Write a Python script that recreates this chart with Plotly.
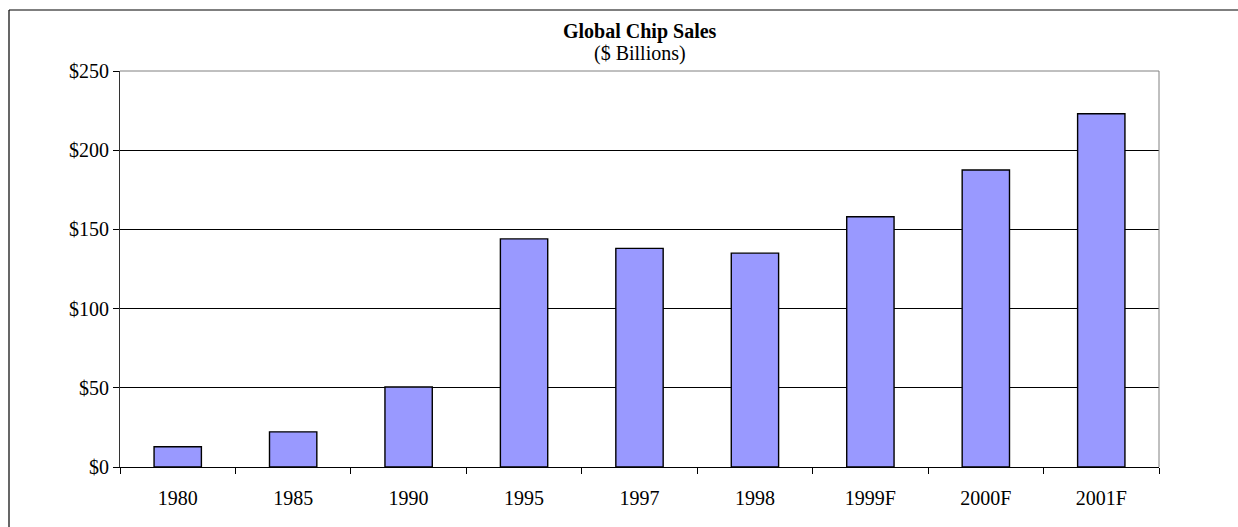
import plotly.graph_objects as go

categories = ["1980", "1985", "1990", "1995", "1997", "1998", "1999F", "2000F", "2001F"]
sales = [12.8, 22.2, 50.5, 144.0, 138.0, 135.0, 158.0, 187.5, 223.0]
y_ticks = [0, 50, 100, 150, 200, 250]
y_tick_labels = ["$0", "$50", "$100", "$150", "$200", "$250"]

W, H = 1238, 527
ML, MR, MT, MB = 120, 79, 71, 60
PW = W - ML - MR
PH = H - MT - MB

def px_x(p):
    return (p - ML) / PW

def px_y(p):
    return (H - MB - p) / PH

FONT = "Liberation Serif, Times New Roman, serif"

fig = go.Figure(
    go.Bar(
        x=categories,
        y=sales,
        marker=dict(color="#9999FF", line=dict(color="#000000", width=1.4)),
        hoverinfo="x+y",
    )
)

fig.update_layout(
    width=W,
    height=H,
    margin=dict(l=ML, r=MR, t=MT, b=MB),
    paper_bgcolor="white",
    plot_bgcolor="white",
    bargap=0.59,
    showlegend=False,
    font=dict(family=FONT, size=20, color="#000000"),
    annotations=[
        dict(text="<b>Global Chip Sales</b>", xref="paper", yref="paper",
             x=0.5, y=px_y(31), xanchor="center", yanchor="middle",
             showarrow=False, font=dict(family=FONT, size=20)),
        dict(text="($ Billions)", xref="paper", yref="paper",
             x=0.5, y=px_y(54), xanchor="center", yanchor="middle",
             showarrow=False, font=dict(family=FONT, size=20)),
    ],
    shapes=[
        # plot-area border (top and right), gray
        dict(type="line", xref="paper", yref="paper", x0=0, x1=1, y0=1, y1=1,
             line=dict(color="#808080", width=1)),
        dict(type="line", xref="paper", yref="paper", x0=1, x1=1, y0=0, y1=1,
             line=dict(color="#808080", width=1)),
        # outer chart border (top and left)
        dict(type="line", xref="paper", yref="paper", x0=px_x(9), x1=px_x(1260),
             y0=px_y(10), y1=px_y(10), line=dict(color="#000000", width=1.2)),
        dict(type="line", xref="paper", yref="paper", x0=px_x(9), x1=px_x(9),
             y0=px_y(10), y1=px_y(560), line=dict(color="#000000", width=1.2)),
    ],
)

fig.update_xaxes(
    type="category",
    showline=True, linecolor="#000000", linewidth=1,
    ticks="outside", ticklen=6, tickcolor="#000000", tickwidth=1,
    tickson="boundaries",
    showgrid=False,
    tickfont=dict(family=FONT, size=20),
    ticklabelstandoff=13,
)

fig.update_yaxes(
    range=[0, 250],
    tickvals=y_ticks,
    ticktext=y_tick_labels,
    showline=True, linecolor="#333333", linewidth=1,
    ticks="outside", ticklen=6, tickcolor="#000000", tickwidth=1,
    showgrid=True, gridcolor="#000000", gridwidth=1,
    zeroline=False,
    tickfont=dict(family=FONT, size=20),
)

fig.write_html("out.html")
